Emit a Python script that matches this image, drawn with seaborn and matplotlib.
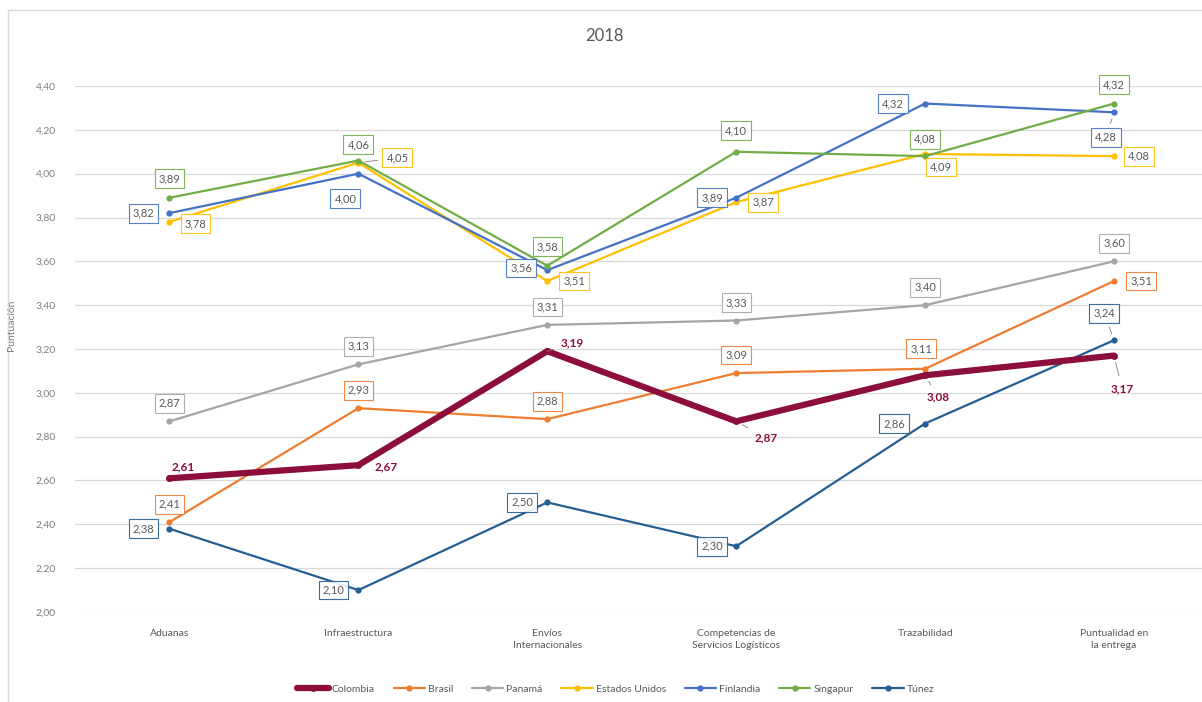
import matplotlib
matplotlib.use("Agg")
import matplotlib.pyplot as plt
from matplotlib.patches import Rectangle
import seaborn as sns
import pandas as pd

categorias = ["Aduanas", "Infraestructura", "Envíos\nInternacionales",
              "Competencias de\nServicios Logísticos", "Trazabilidad",
              "Puntualidad en\nla entrega"]

colombia = [2.61, 2.67, 3.19, 2.87, 3.08, 3.17]
brasil = [2.41, 2.93, 2.88, 3.09, 3.11, 3.51]
panama = [2.87, 3.13, 3.31, 3.33, 3.40, 3.60]
estados_unidos = [3.78, 4.05, 3.51, 3.87, 4.09, 4.08]
finlandia = [3.82, 4.00, 3.56, 3.89, 4.32, 4.28]
singapur = [3.89, 4.06, 3.58, 4.10, 4.08, 4.32]
tunez = [2.38, 2.10, 2.50, 2.30, 2.86, 3.24]

paises = ["Colombia", "Brasil", "Panamá", "Estados Unidos", "Finlandia", "Singapur", "Túnez"]
valores = [colombia, brasil, panama, estados_unidos, finlandia, singapur, tunez]

colores = {
    "Colombia": "#8C0E3C",
    "Brasil": "#ED7D31",
    "Panamá": "#A5A5A5",
    "Estados Unidos": "#FFC000",
    "Finlandia": "#4472C4",
    "Singapur": "#70AD47",
    "Túnez": "#255E91",
}

# label offsets in pixels (dx, dy downward) and whether a leader line is drawn
U, D, L, R = (0, -18), (0, 18), (-26, 0), (27, 0)
etiquetas = {
    "Colombia": [((14, -11), False), ((28, 2), False), ((25, -8), True),
                 ((30, 17), True), ((13, 22), True), ((8, 33), True)],
    "Brasil": [(U, False), (U, False), (U, False), (U, False), ((-4, -20), False), (R, False)],
    "Panamá": [(U, False), (U, False), (U, False), (U, False), (U, False), (U, False)],
    "Estados Unidos": [((26, 2), False), ((39, -5), True), (R, False), (R, False),
                       ((16, 13), True), ((25, 0), False)],
    "Finlandia": [(L, False), ((-13, 25), False), ((-26, -2), False), ((-24, 0), False),
                  ((-32, 0), False), ((-8, 25), True)],
    "Singapur": [((0, -19), False), ((0, -16), False), ((0, -19), False), ((0, -21), False),
                 ((0, -17), False), ((0, -19), False)],
    "Túnez": [(L, False), ((-25, 0), False), ((-25, 0), False), ((-24, 0), False),
              ((-31, 0), False), ((-10, -27), True)],
}

sns.set_theme(style="white")
plt.rcParams["font.family"] = ["Lato", "DejaVu Sans"]

W, H = 1202, 702
fig = plt.figure(figsize=(W / 100, H / 100), dpi=100)
left_px, right_px = 75, 1208.5
top_px, bottom_px = 86, 612
ax = fig.add_axes([left_px / W, 1 - bottom_px / H,
                   (right_px - left_px) / W, (bottom_px - top_px) / H])

# chart border
fig.patches.append(Rectangle((8 / W, -0.1), 1.2, 1 - 10 / H + 0.1, transform=fig.transFigure,
                             fill=False, edgecolor="#D9D9D9", lw=1.0, zorder=0))

x = list(range(len(categorias)))
for pais, vals in zip(paises, valores):
    df = pd.DataFrame({"x": x, "y": vals})
    grueso = pais == "Colombia"
    sns.lineplot(data=df, x="x", y="y", ax=ax, color=colores[pais],
                 lw=4.5 if grueso else 1.6, marker="o", markersize=5 if grueso else 4.5,
                 markeredgewidth=0, label=pais, zorder=6 if grueso else 4, sort=False)

gris = "#595959"
for pais, vals in zip(paises, valores):
    for i, (v, ((dx, dy), lider)) in enumerate(zip(vals, etiquetas[pais])):
        txt = f"{v:.2f}".replace(".", ",")
        if pais == "Colombia":
            kw = dict(color=colores[pais], fontweight="bold", fontsize=8.5)
            bbox = None
        else:
            kw = dict(color=gris, fontsize=8)
            bbox = dict(boxstyle="square,pad=0.35", fc="white", ec=colores[pais], lw=0.8, alpha=0.9)
        arrow = dict(arrowstyle="-", color="#7F7F7F", lw=0.6, shrinkA=3, shrinkB=5) if lider else None
        ax.annotate(txt, (i, v), xytext=(dx, -dy), textcoords="offset pixels",
                    ha="center", va="center", bbox=bbox, arrowprops=arrow, zorder=8, **kw)

ax.set_xlim(-0.5, 5.5)
ax.set_ylim(2.0, 4.4)
yt = [2.0 + 0.2 * k for k in range(13)]
ax.set_yticks(yt)
ax.set_yticklabels([f"{t:.2f}".replace(".", ",") for t in yt], fontsize=7.5, color="#7F7F7F")
ax.set_xticks(x)
ax.set_xticklabels(categorias, fontsize=7.5, color="#595959", linespacing=1.5)
ax.tick_params(axis="both", length=0, pad=12)
ax.tick_params(axis="y", pad=14)
ax.grid(axis="y", color="#D9D9D9", lw=0.9)
ax.set_axisbelow(True)
for s in ax.spines.values():
    s.set_visible(False)
ax.set_xlabel("")
ax.set_ylabel("")

fig.text(12 / W, 1 - 325 / H, "Puntuación", rotation=90, ha="center", va="center",
         fontsize=7.5, color="#7F7F7F")
fig.text(604 / W, 1 - 36 / H, "2018", ha="center", va="center", fontsize=12, color=gris)

handles, labels = ax.get_legend_handles_labels()
if ax.legend_:
    ax.legend_.remove()
fig.legend(handles, labels, loc="center", bbox_to_anchor=(616 / W, 1 - 689 / H), ncol=7,
           frameon=False, fontsize=7.5, labelcolor=gris, handlelength=3.0,
           columnspacing=1.8, handletextpad=0.3)

fig.savefig("out.png", dpi=100)
